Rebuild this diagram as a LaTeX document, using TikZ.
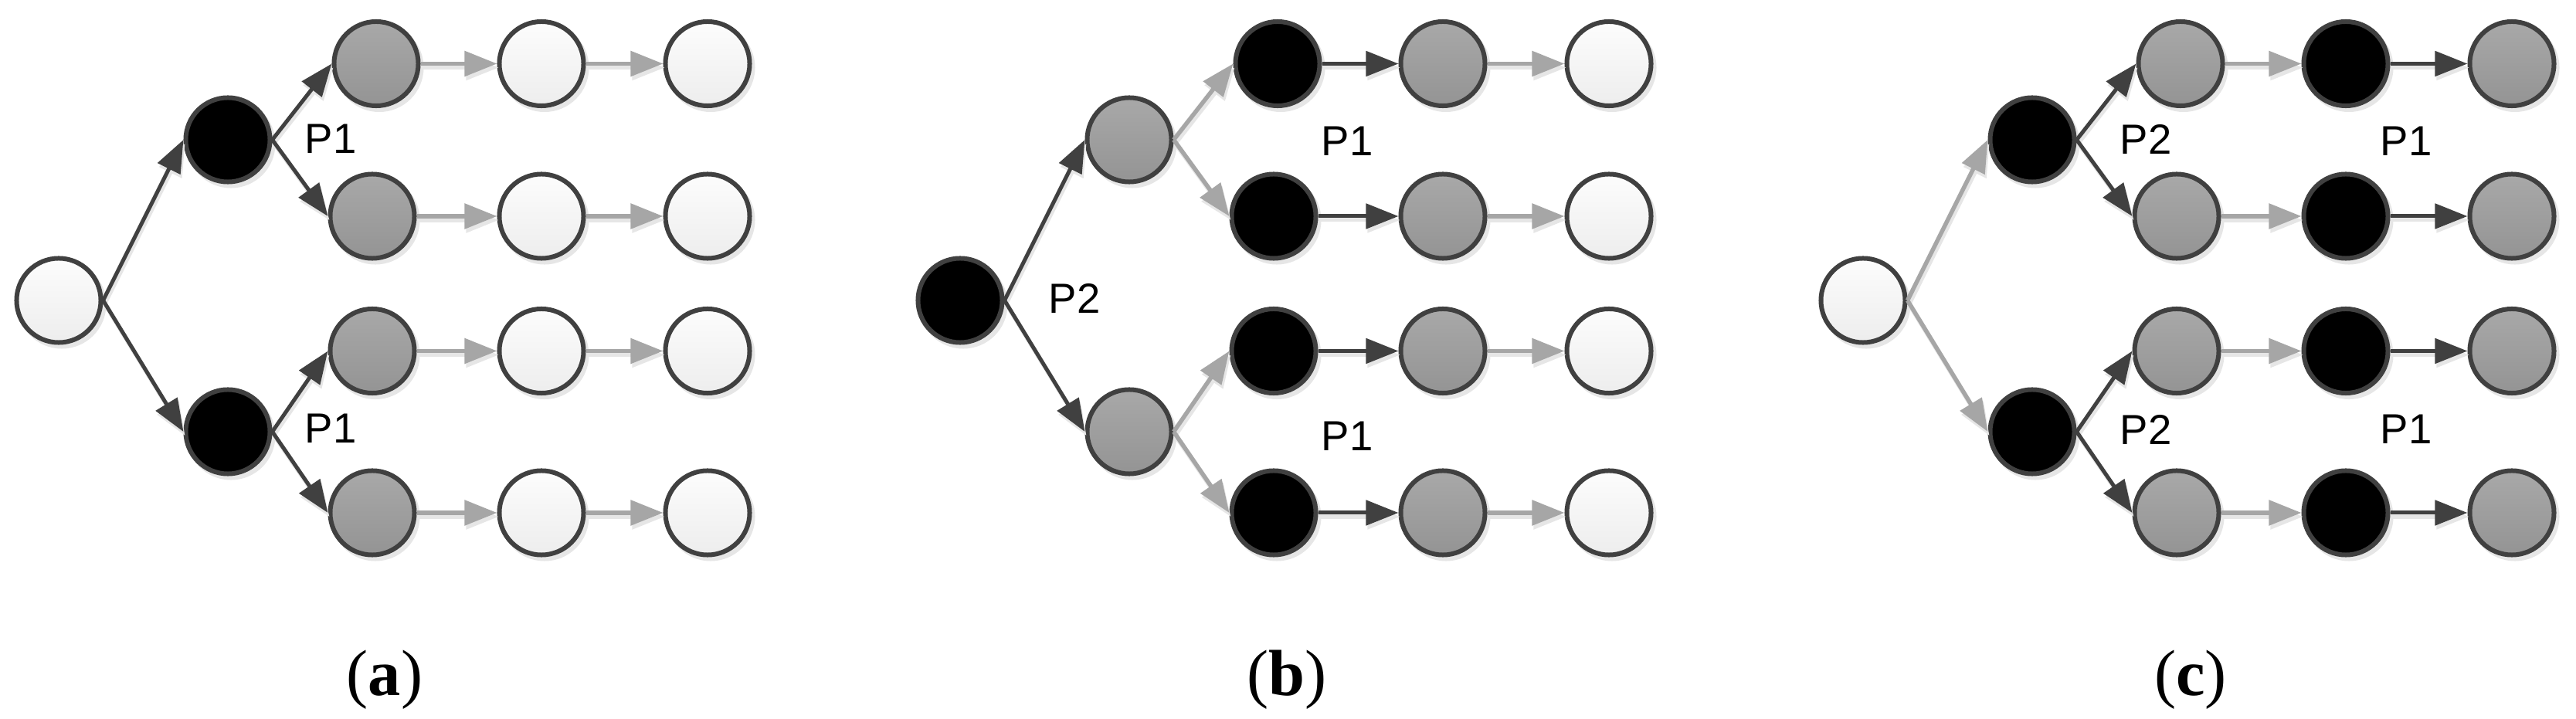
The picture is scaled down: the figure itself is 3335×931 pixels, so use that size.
\documentclass[tikz,border=0pt]{standalone}
\usepackage{fontspec}
\setmainfont{Liberation Serif}
\newfontfamily\labfont{Liberation Sans}
\usetikzlibrary{arrows.meta}
\definecolor{edgec}{HTML}{404040}
\definecolor{lightc}{HTML}{A6A6A6}
\definecolor{shadc}{HTML}{E6E6E6}
\tikzset{
  nd/.style={circle, minimum size=1.09cm, inner sep=0pt, line width=0.06cm, draw=edgec,
    preaction={fill=shadc, draw=shadc, transform canvas={xshift=0.04cm, yshift=-0.05cm}}},
  blk/.style={fill=black},
  gry/.style={top color=black!34, bottom color=black!42},
  wht/.style={top color=black!1, bottom color=black!7},
  arrshadow/.style={preaction={draw=shadc, line width=#1, -{Triangle[length=0.42cm,width=0.32cm]},
    transform canvas={xshift=0.02cm, yshift=-0.05cm}}},
  darr/.style={arrshadow=0.05cm, draw=edgec, line width=0.05cm, -{Triangle[length=0.42cm,width=0.32cm]}},
  larr/.style={arrshadow=0.055cm, draw=lightc, line width=0.055cm, -{Triangle[length=0.42cm,width=0.32cm]}},
  lab/.style={font=\labfont\fontsize{15.5}{18}\selectfont, inner sep=0pt},
  captext/.style={font=\fontsize{24}{28}\selectfont, inner sep=0pt},
}
\newcommand\treepanel[2]{%
\begin{scope}[xshift=#2*0.01cm]
\node[nd, sR] (#1r) at (76,389) {};
\node[nd, sA] (#1u) at (295,181) {};
\node[nd, sA] (#1d) at (295,559) {};
\node[nd, sB] (#1a2) at (487,82.5) {};
\node[nd, sB] (#1b2) at (482,280) {};
\node[nd, sB] (#1c2) at (482,454.5) {};
\node[nd, sB] (#1d2) at (482,664) {};
\foreach \rr/\yy in {a/82.5,b/280,c/454.5,d/664}{
  \node[nd, sC] (#1\rr3) at (701,\yy) {};
  \node[nd, sD] (#1\rr4) at (916,\yy) {};
  \draw[eC] (#1\rr2.east) -- (#1\rr3.west);
  \draw[eD] (#1\rr3.east) -- (#1\rr4.west);
}
\draw[eA] (#1r.east) -- (#1u.west);
\draw[eA] (#1r.east) -- (#1d.west);
\draw[eB] (#1u.east) -- (#1a2.west);
\draw[eB] (#1u.east) -- (#1b2.west);
\draw[eB] (#1d.east) -- (#1c2.west);
\draw[eB] (#1d.east) -- (#1d2.west);
\end{scope}}
\begin{document}
\begin{tikzpicture}[x=0.01cm, y=-0.01cm]
\useasboundingbox (0,0) rectangle (3335,931);
% panel (a)
\tikzset{sR/.style={wht}, sA/.style={blk}, sB/.style={gry}, sC/.style={wht}, sD/.style={wht},
  eA/.style={darr}, eB/.style={darr}, eC/.style={larr}, eD/.style={larr}}
\treepanel{pa}{0}
% panel (b)
\tikzset{sR/.style={blk}, sA/.style={gry}, sB/.style={blk}, sC/.style={gry}, sD/.style={wht},
  eA/.style={darr}, eB/.style={larr}, eC/.style={darr}, eD/.style={larr}}
\treepanel{pb}{1167}
% panel (c)
\tikzset{sR/.style={wht}, sA/.style={blk}, sB/.style={gry}, sC/.style={blk}, sD/.style={gry},
  eA/.style={larr}, eB/.style={darr}, eC/.style={larr}, eD/.style={darr}}
\treepanel{pc}{2336}
% labels
\node[lab] (la1) at (428,180) {P1};
\node[lab] (la2) at (428,555) {P1};
\node[lab] (lb0) at (1391,386) {P2};
\node[lab] (lb1) at (1744,183) {P1};
\node[lab] (lb2) at (1744,565) {P1};
\node[lab] (lc1) at (2778,180) {P2};
\node[lab] (lc2) at (2778,556) {P2};
\node[lab] (lc3) at (3115,183) {P1};
\node[lab] (lc4) at (3115,556) {P1};
% captions
\node[captext] (ca) at (498,880) {(\textbf{a})};
\node[captext] (cb) at (1666,880) {(\textbf{b})};
\node[captext] (cc) at (2836,880) {(\textbf{c})};
\end{tikzpicture}
\end{document}
